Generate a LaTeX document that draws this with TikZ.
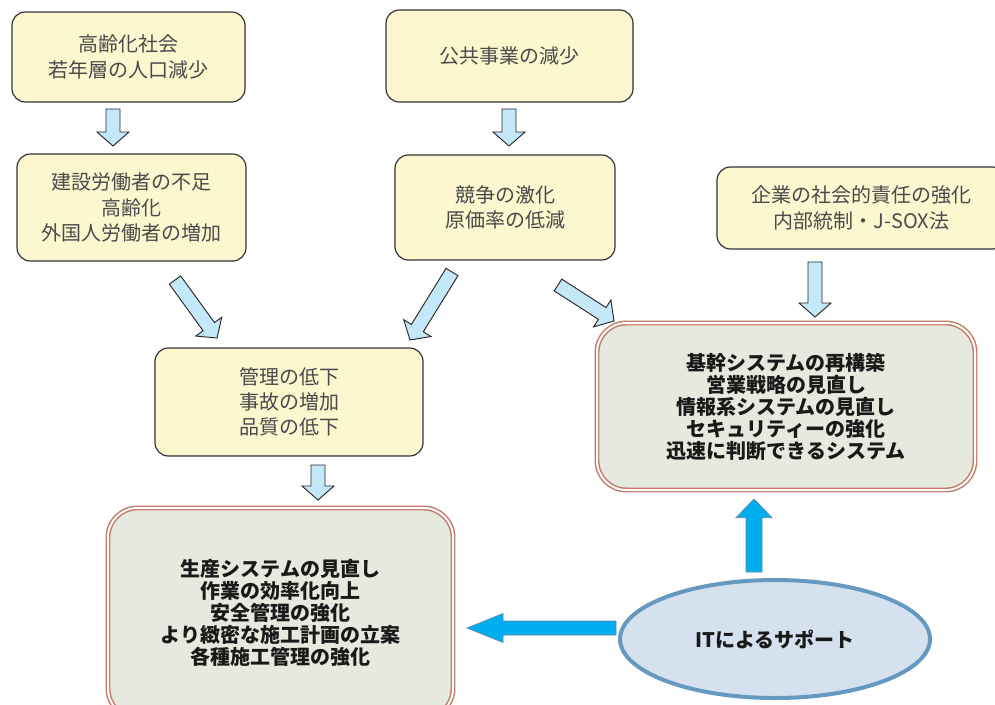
\documentclass[tikz,border=0pt]{standalone}
\usepackage{fontspec}
\setmainfont{Noto Sans CJK JP}
\usetikzlibrary{shapes.geometric,calc}

\definecolor{boxyellow}{HTML}{FCF7CF}
\definecolor{boxgray}{HTML}{E6E9DE}
\definecolor{boxbrown}{HTML}{C47A64}
\definecolor{textgray}{HTML}{4A4A4A}
\definecolor{ovalfill}{HTML}{D5E1EE}
\definecolor{ovaledge}{HTML}{6699C0}
\definecolor{arrowlight}{HTML}{C5E8F8}
\definecolor{arrowblue}{HTML}{00AEEF}
\definecolor{arrowedge}{HTML}{6A86AA}

\tikzset{
  arr shaft/.store in=\arrshaft,
  arr head/.store in=\arrhead,
  arr len/.store in=\arrlen,
  cause/.style={draw=black!80, line width=0.9pt, fill=boxyellow, rounded corners=10pt,
    align=center, text=textgray, font=\fontsize{15}{19}\selectfont, inner sep=0pt},
  measure/.style={draw=boxbrown, double=white, double distance=1.5pt, line width=1.1pt,
    fill=boxgray, rounded corners=22pt, align=center, text=black!90,
    font=\bfseries\fontsize{15}{16.5}\selectfont, inner sep=0pt},
  support/.style={ellipse, draw=ovaledge, line width=3pt, fill=ovalfill,
    font=\bfseries\fontsize{15}{18}\selectfont, text=black!90},
  lightarrow/.style={draw=black!85, fill=arrowlight, line width=0.7pt,
    arr shaft=5.25pt, arr head=12pt, arr len=10.5pt},
  bluearrow/.style={draw=arrowedge, fill=arrowblue, line width=0.5pt,
    arr shaft=6pt, arr head=13.5pt, arr len=14pt},
}

% block arrow from tail coordinate #2 to tip coordinate #3
\newcommand{\fatarrow}[3]{%
  \begin{scope}[#1]
    \coordinate (hb) at ($(#3)!\arrlen!(#2)$);
    \filldraw[#1] ($(#2)!\arrshaft!90:(#3)$) -- ($(hb)!\arrshaft!90:(#3)$)
      -- ($(hb)!\arrhead!90:(#3)$) -- (#3)
      -- ($(hb)!\arrhead!-90:(#3)$) -- ($(hb)!\arrshaft!-90:(#3)$)
      -- ($(#2)!\arrshaft!-90:(#3)$) -- cycle;
  \end{scope}}

\begin{document}
\begin{tikzpicture}[x=0.75pt, y=-0.75pt]
  \useasboundingbox (0,0) rectangle (995,704);

  % causes
  \node[cause, minimum width=174.75pt, minimum height=67.5pt] (aging) at (128.5,57)
    {高齢化社会\\若年層の人口減少};
  \node[cause, minimum width=185.25pt, minimum height=69pt] (public) at (509.5,56)
    {公共事業の減少};
  \node[cause, minimum width=171.75pt, minimum height=80.25pt] (labour) at (131.5,207.5)
    {建設労働者の不足\\高齢化\\外国人労働者の増加};
  \node[cause, minimum width=165pt, minimum height=78.75pt] (compete) at (505,207.5)
    {競争の激化\\原価率の低減};
  \node[cause, minimum width=216.75pt, minimum height=61.5pt] (csr) at (861.5,208)
    {企業の社会的責任の強化\\内部統制・J-SOX法};
  \node[cause, minimum width=201pt, minimum height=81pt] (quality) at (289,402)
    {管理の低下\\事故の増加\\品質の低下};

  % measures
  \node[measure, minimum width=258.75pt, minimum height=157.5pt] (site) at (280.5,613)
    {生産システムの見直し\\作業の効率化向上\\安全管理の強化\\より緻密な施工計画の立案\\各種施工管理の強化};
  \node[measure, minimum width=283.5pt, minimum height=125.25pt] (system) at (786,406.5)
    {基幹システムの再構築\\営業戦略の見直し\\情報系システムの見直し\\セキュリティーの強化\\迅速に判断できるシステム};

  \node[support, minimum width=232.5pt, minimum height=88.5pt] (it) at (775,639)
    {ITによるサポート};

  % arrow ends
  \coordinate (agingT) at (113,109);    \coordinate (agingH) at (113,146);
  \coordinate (publicT) at (509,109);   \coordinate (publicH) at (509,146);
  \coordinate (labourT) at (175,280);   \coordinate (labourH) at (217,338);
  \coordinate (competeT) at (452,272);  \coordinate (competeH) at (410,340);
  \coordinate (competeRT) at (558,285); \coordinate (competeRH) at (614,321);
  \coordinate (csrT) at (815,262);      \coordinate (csrH) at (815,317);
  \coordinate (qualityT) at (318,465);  \coordinate (qualityH) at (318,500);
  \coordinate (itUpT) at (754,572);     \coordinate (itUpH) at (754,499);
  \coordinate (itLeftT) at (616,628);   \coordinate (itLeftH) at (467,628);

  \fatarrow{lightarrow}{agingT}{agingH}
  \fatarrow{lightarrow}{publicT}{publicH}
  \fatarrow{lightarrow}{labourT}{labourH}
  \fatarrow{lightarrow}{competeT}{competeH}
  \fatarrow{lightarrow}{competeRT}{competeRH}
  \fatarrow{lightarrow}{csrT}{csrH}
  \fatarrow{lightarrow}{qualityT}{qualityH}
  \fatarrow{bluearrow}{itUpT}{itUpH}
  \fatarrow{bluearrow, arr shaft=5.25pt, arr head=10.9pt, arr len=27pt}{itLeftT}{itLeftH}
\end{tikzpicture}
\end{document}
